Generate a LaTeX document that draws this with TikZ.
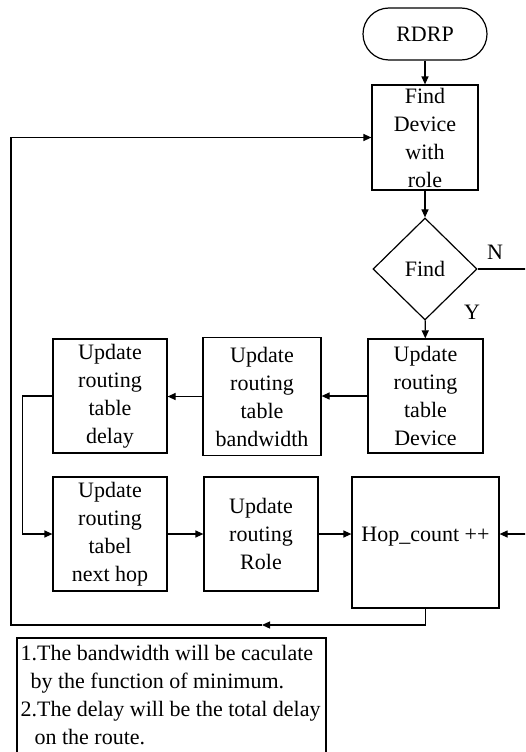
\documentclass[tikz,border=0pt]{standalone}
\usepackage{fontspec}
\setmainfont{Liberation Serif}
\usetikzlibrary{shapes.geometric,arrows.meta}

\begin{document}
\begin{tikzpicture}[x=1pt,y=-1pt,line width=1.2pt,
  font=\fontsize{22}{28}\selectfont,
  flow/.style={-{Triangle[length=8pt,width=7pt]}},
  proc/.style={draw, rectangle, inner sep=0pt, align=center, minimum width=114pt, minimum height=114pt},
  term/.style={draw, rounded corners=26pt, inner sep=0pt, minimum width=124pt, minimum height=52pt},
  test/.style={draw, diamond, inner sep=0pt, minimum width=104pt, minimum height=102pt}]
% page frame
\useasboundingbox (0,0) rectangle (525,752);
\clip (0,0) rectangle (525,752);
% start and search
\node[term] (rdrp) at (425,34) {RDRP};
\node[proc, minimum width=106pt, minimum height=105pt] (find) at (425,137.5) {Find\\Device\\with\\role};
\node[test] (test) at (425,269) {Find};
\node (nlab) at (495,252) {N};
\node (ylab) at (472,312) {Y};
\coordinate (nout) at (530,269);
% routing table updates
\node[proc, minimum width=115pt] (dev) at (425.5,396) {Update\\routing\\table\\Device};
\node[proc, minimum width=118pt, minimum height=118pt] (bw) at (262,396.5) {Update\\routing\\table\\bandwidth};
\node[proc] (delay) at (110,396) {Update\\routing\\table\\delay};
\node[proc] (nhop) at (110,534) {Update\\routing\\tabel\\next hop};
\node[proc] (role) at (261,534) {Update\\routing\\Role};
\node[draw, inner sep=0pt, minimum width=147pt, text height=64pt, text depth=67pt] (hop) at (425.5,542.5) {Hop\_count ++};
\coordinate (rin) at (530,534);
% connectors
\draw[flow] (rdrp) -- (find);
\draw[flow] (find) -- (test);
\draw[flow] (test) -- (dev);
\draw (test.east) -- (nout);
\draw[flow] (dev.west) -- (dev.west -| bw.east);
\draw[flow] (bw.west) -- (bw.west -| delay.east);
\draw[flow] (delay.west) -- ++(-30,0) |- (nhop.west);
\draw[flow] (nhop) -- (role);
\draw[flow] (role.east) -- (role.east -| hop.west);
\draw[flow] (rin) -- (rin -| hop.east);
% loop back to the search
\coordinate (back) at (262,625);
\coordinate (lb) at (11,625);
\draw[flow] (hop.south) |- (back);
\draw[flow] (back) -- (lb) |- (find.west);
% notes
\node[anchor=north west, align=left, inner xsep=3pt, inner ysep=7pt] (note) at (17,638)
  {1.The bandwidth will be caculate\\\hspace*{10pt}by the function of minimum.\\2.The delay will be the total delay\\\hspace*{14pt}on the route.};
\draw (note.north west) rectangle ++(309,135);
\end{tikzpicture}
\end{document}
